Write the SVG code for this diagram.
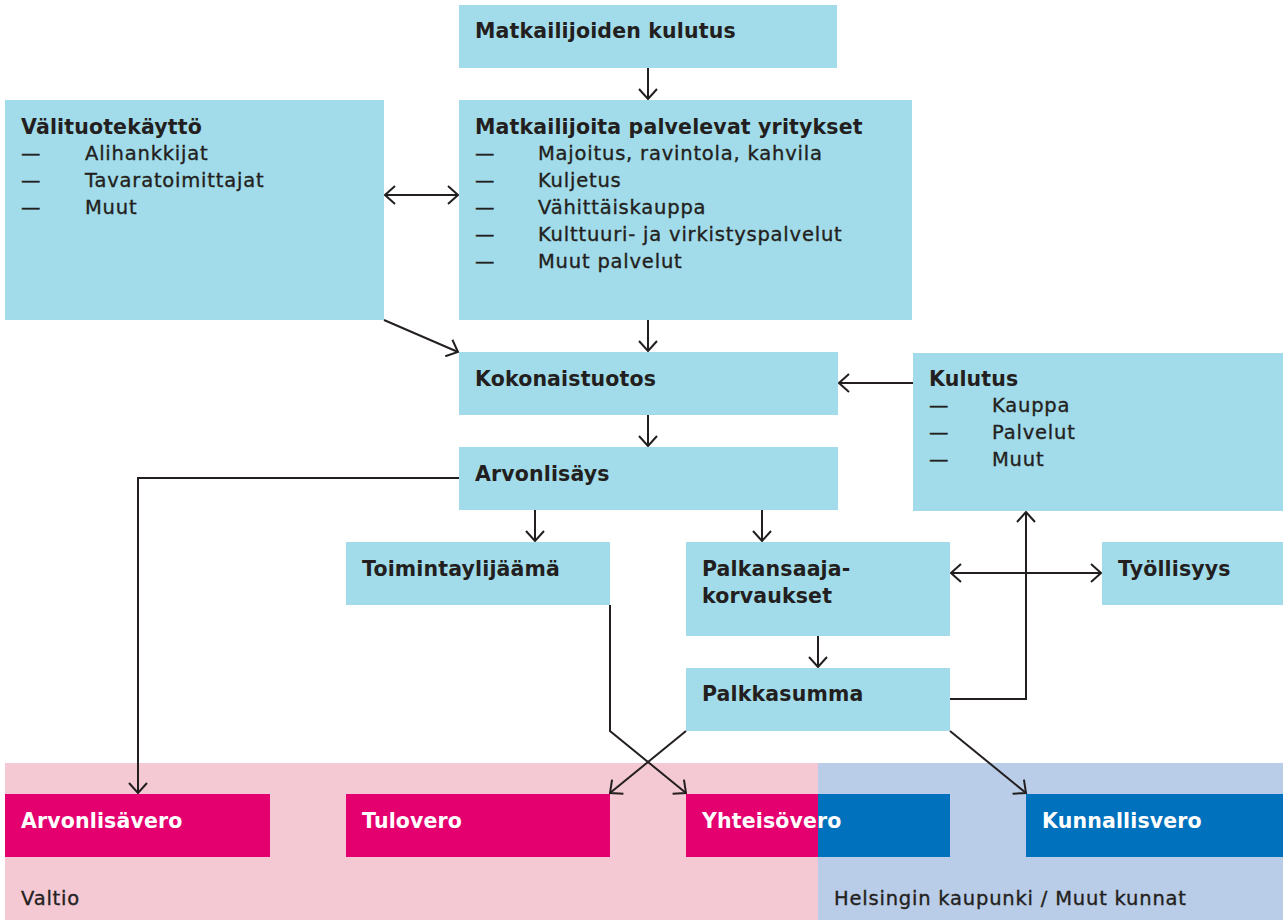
<svg xmlns="http://www.w3.org/2000/svg" width="1283" height="920" viewBox="0 0 1283 920">
<style>
.box{fill:#a2dcea}
.mag{fill:#e4006f}
.blu{fill:#0071bc}
.t{font-family:"DejaVu Sans","Liberation Sans",sans-serif;font-size:19.5px;fill:#231f20;letter-spacing:0.8px;stroke:#231f20;stroke-width:0.35px}
.b{font-weight:bold;font-size:20.5px;letter-spacing:0.15px;stroke:none}
.w{fill:#ffffff}
.c{fill:none;stroke:#231f20;stroke-width:2}
</style>
<defs>
<marker id="ah" markerUnits="userSpaceOnUse" viewBox="0 0 12 20" markerWidth="12" markerHeight="20" refX="11" refY="10" orient="auto-start-reverse">
<path d="M1,1 L11,10 L1,19" fill="none" stroke="#231f20" stroke-width="2"/>
</marker>
</defs>
<rect width="1283" height="920" fill="#ffffff"/>
<g id="region-valtio">
<rect x="5" y="763" width="813" height="157" fill="#f5c9d3"/>
<text class="t" x="21" y="905">Valtio</text>
</g>
<g id="region-kunnat">
<rect x="818" y="763" width="465" height="157" fill="#bacde8"/>
<text class="t" x="834" y="905">Helsingin kaupunki / Muut kunnat</text>
</g>
<g id="n-matkailijoiden-kulutus">
<rect class="box" x="459" y="5" width="378" height="63"/>
<text class="t b" x="475" y="38">Matkailijoiden kulutus</text>
</g>
<g id="n-valituotekaytto">
<rect class="box" x="5" y="100" width="379" height="220"/>
<text class="t b" x="21" y="134">Välituotekäyttö</text>
<text class="t" x="21" y="160">—</text><text class="t" x="85" y="160">Alihankkijat</text>
<text class="t" x="21" y="187">—</text><text class="t" x="85" y="187">Tavaratoimittajat</text>
<text class="t" x="21" y="214">—</text><text class="t" x="85" y="214">Muut</text>
</g>
<g id="n-yritykset">
<rect class="box" x="459" y="100" width="453" height="220"/>
<text class="t b" x="475" y="134">Matkailijoita palvelevat yritykset</text>
<text class="t" x="475" y="160">—</text><text class="t" x="538" y="160">Majoitus, ravintola, kahvila</text>
<text class="t" x="475" y="187">—</text><text class="t" x="538" y="187">Kuljetus</text>
<text class="t" x="475" y="214">—</text><text class="t" x="538" y="214">Vähittäiskauppa</text>
<text class="t" x="475" y="241">—</text><text class="t" x="538" y="241">Kulttuuri- ja virkistyspalvelut</text>
<text class="t" x="475" y="268">—</text><text class="t" x="538" y="268">Muut palvelut</text>
</g>
<g id="n-kokonaistuotos">
<rect class="box" x="459" y="352" width="379" height="63"/>
<text class="t b" x="475" y="386">Kokonaistuotos</text>
</g>
<g id="n-kulutus">
<rect class="box" x="913" y="353" width="370" height="158"/>
<text class="t b" x="929" y="386">Kulutus</text>
<text class="t" x="929" y="412">—</text><text class="t" x="992" y="412">Kauppa</text>
<text class="t" x="929" y="439">—</text><text class="t" x="992" y="439">Palvelut</text>
<text class="t" x="929" y="466">—</text><text class="t" x="992" y="466">Muut</text>
</g>
<g id="n-arvonlisays">
<rect class="box" x="459" y="447" width="379" height="63"/>
<text class="t b" x="475" y="481">Arvonlisäys</text>
</g>
<g id="n-toimintaylijaama">
<rect class="box" x="346" y="542" width="264" height="63"/>
<text class="t b" x="362" y="576">Toimintaylijäämä</text>
</g>
<g id="n-palkansaajakorvaukset">
<rect class="box" x="686" y="542" width="264" height="94"/>
<text class="t b" x="702" y="576">Palkansaaja-</text>
<text class="t b" x="702" y="603">korvaukset</text>
</g>
<g id="n-tyollisyys">
<rect class="box" x="1102" y="542" width="181" height="63"/>
<text class="t b" x="1118" y="576">Työllisyys</text>
</g>
<g id="n-palkkasumma">
<rect class="box" x="686" y="668" width="264" height="63"/>
<text class="t b" x="702" y="701">Palkkasumma</text>
</g>
<g id="n-arvonlisavero">
<rect class="mag" x="5" y="794" width="265" height="63"/>
<text class="t b w" x="21" y="828">Arvonlisävero</text>
</g>
<g id="n-tulovero">
<rect class="mag" x="346" y="794" width="264" height="63"/>
<text class="t b w" x="362" y="828">Tulovero</text>
</g>
<g id="n-yhteisovero">
<rect class="mag" x="686" y="794" width="132" height="63"/>
<rect class="blu" x="818" y="794" width="132" height="63"/>
<text class="t b w" x="702" y="828">Yhteisövero</text>
</g>
<g id="n-kunnallisvero">
<rect class="blu" x="1026" y="794" width="257" height="63"/>
<text class="t b w" x="1042" y="828">Kunnallisvero</text>
</g>
<g id="connectors">
<path class="c" d="M648,68 V99" marker-end="url(#ah)"/>
<path class="c" d="M385,195 H458" marker-start="url(#ah)" marker-end="url(#ah)"/>
<path class="c" d="M384,320 L458,352" marker-end="url(#ah)"/>
<path class="c" d="M648,320 V351" marker-end="url(#ah)"/>
<path class="c" d="M913,383 H839" marker-end="url(#ah)"/>
<path class="c" d="M648,415 V446" marker-end="url(#ah)"/>
<path class="c" d="M459,478 H138 V793" marker-end="url(#ah)"/>
<path class="c" d="M535,510 V541" marker-end="url(#ah)"/>
<path class="c" d="M762,510 V541" marker-end="url(#ah)"/>
<path class="c" d="M951,573 H1101" marker-start="url(#ah)" marker-end="url(#ah)"/>
<path class="c" d="M950,699 H1026 V512" marker-end="url(#ah)"/>
<path class="c" d="M818,636 V667" marker-end="url(#ah)"/>
<path class="c" d="M610,605 V731 L686,793" marker-end="url(#ah)"/>
<path class="c" d="M686,731 L610,793" marker-end="url(#ah)"/>
<path class="c" d="M950,731 L1026,793" marker-end="url(#ah)"/>
</g>
</svg>
